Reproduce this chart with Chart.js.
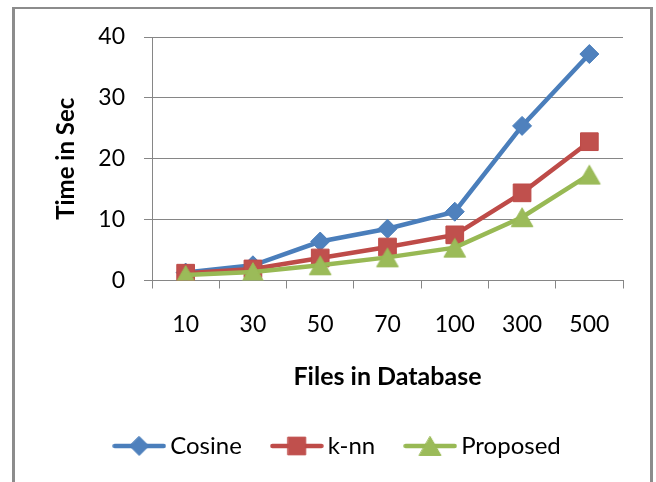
<!DOCTYPE html>
<html>
<head>
<meta charset="utf-8">
<script src="https://cdn.jsdelivr.net/npm/chart.js@4/dist/chart.umd.min.js"></script>
<style>
  html, body { margin: 0; padding: 0; background: #fff; }
  #wrap { position: relative; width: 656px; height: 482px; overflow: hidden; }
  #frame {
    position: absolute; left: 12px; top: 7px; width: 641px; height: 520px;
    box-sizing: border-box; border: 3px solid #8c8c8c; border-top-width: 2px;
  }
  #c { position: absolute; left: 0; top: 0; }
</style>
</head>
<body>
<div id="wrap">
  <div id="frame"></div>
  <canvas id="c" width="656" height="482"></canvas>
</div>
<script>
// Search time per database size
const categories = ['10', '30', '50', '70', '100', '300', '500'];
const cosine   = [1.3, 2.5, 6.4, 8.5, 11.3, 25.4, 37.2];
const knn      = [1.2, 1.9, 3.7, 5.5, 7.5, 14.4, 22.8];
const proposed = [0.9, 1.4, 2.5, 3.8, 5.4, 10.4, 17.4];
const yTicks   = [0, 10, 20, 30, 40];

const seriesNames = ['Cosine', 'k-nn', 'Proposed'];
const lineColors  = ['#4A7EBB', '#BE4B48', '#98B954'];
const fillColors  = ['#4F81BD', '#C0504D', '#9BBB59'];
const markerStyle = ['rectRot', 'rect', 'triangle'];
const markerSize  = [9.5, 12.5, 12.5];

const FONT = 'Lato, "Open Sans", sans-serif';
const AXIS = '#868686';

// Marker shape; the triangle is centred on its bounding box
function marker(g, style, r, x, y) {
  g.beginPath();
  if (style === 'rectRot') {
    g.moveTo(x, y - r); g.lineTo(x + r, y); g.lineTo(x, y + r); g.lineTo(x - r, y);
  } else if (style === 'rect') {
    const s = r * Math.SQRT1_2;
    g.rect(x - s, y - s, 2 * s, 2 * s);
  } else {
    const h = 1.5 * r, hw = r * Math.sqrt(3) / 2;
    g.moveTo(x, y - h / 2);
    g.lineTo(x + hw, y + h / 2);
    g.lineTo(x - hw, y + h / 2);
  }
  g.closePath();
  g.fill();
  g.stroke();
}

// Triangle marker image for the chart points
function triangleImage(i) {
  const c = document.createElement('canvas');
  c.width = 26; c.height = 22;
  const g = c.getContext('2d');
  g.fillStyle = fillColors[i];
  g.strokeStyle = lineColors[i];
  g.lineWidth = 1;
  marker(g, 'triangle', markerSize[i], 13, 11);
  return c;
}

// Line-with-marker swatch for the legend
function legendIcon(i) {
  const c = document.createElement('canvas');
  c.width = 54; c.height = 28;
  const g = c.getContext('2d');
  g.strokeStyle = lineColors[i];
  g.lineWidth = 4.5;
  g.lineCap = 'round';
  g.beginPath(); g.moveTo(2.5, 14); g.lineTo(51.5, 14); g.stroke();
  g.fillStyle = fillColors[i];
  g.lineWidth = 1;
  marker(g, markerStyle[i], markerSize[i], 27, 14);
  return c;
}

function makeDataset(i, values) {
  const style = markerStyle[i] === 'triangle' ? triangleImage(i) : markerStyle[i];
  return {
    label: seriesNames[i],
    data: values,
    borderColor: lineColors[i],
    backgroundColor: fillColors[i],
    borderWidth: 4.5,
    tension: 0,
    pointStyle: style,
    pointRadius: markerSize[i],
    pointHoverRadius: markerSize[i],
    pointBackgroundColor: fillColors[i],
    pointBorderColor: lineColors[i],
    pointBorderWidth: 1,
    order: 2 - i
  };
}

// Moves the legend row sideways after layout
const legendShift = {
  id: 'legendShift',
  afterLayout(chart, args, opts) {
    if (chart.legend) {
      chart.legend.left += opts.dx;
      chart.legend.right += opts.dx;
    }
  }
};

function draw() {
  Chart.defaults.color = '#000';
  Chart.defaults.font.family = FONT;
  const icons = [0, 1, 2].map(legendIcon);

  new Chart(document.getElementById('c'), {
    type: 'line',
    data: {
      labels: categories,
      datasets: [makeDataset(0, cosine), makeDataset(1, knn), makeDataset(2, proposed)]
    },
    plugins: [legendShift],
    options: {
      responsive: false,
      devicePixelRatio: 1,
      animation: false,
      events: [],
      layout: { padding: { left: 14, right: 33, top: 37, bottom: 14 } },
      scales: {
        x: {
          type: 'category',
          offset: true,
          afterFit(s) { s.height = 117.5; },
          grid: { offset: true, drawOnChartArea: false, drawTicks: true, tickLength: 8, color: AXIS, lineWidth: 1 },
          border: { color: AXIS, width: 1 },
          ticks: { padding: 22.7, font: { size: 23, family: FONT }, color: '#000', maxRotation: 0, autoSkip: false },
          title: { display: true, text: 'Files in Database', font: { size: 25, weight: 'bold', family: FONT }, color: '#000', padding: { top: 0, bottom: 6 } }
        },
        y: {
          min: yTicks[0],
          max: yTicks[yTicks.length - 1],
          afterFit(s) { s.width = 138; },
          afterBuildTicks(s) { s.ticks = yTicks.map(v => ({ value: v })); },
          grid: { color: AXIS, lineWidth: 1, tickLength: 8, drawTicks: true },
          border: { color: AXIS, width: 1 },
          ticks: { padding: 19, font: { size: 23, family: FONT }, color: '#000' },
          title: { display: true, text: 'Time in Sec', font: { size: 24, weight: 'bold', family: FONT }, color: '#000', padding: { top: 37.6, bottom: 0 } }
        }
      },
      plugins: {
        legendShift: { dx: 22 },
        tooltip: { enabled: false },
        legend: {
          position: 'bottom',
          labels: {
            usePointStyle: true,
            pointStyleWidth: 38,
            padding: 36,
            font: { size: 24, family: FONT },
            color: '#000',
            sort: (a, b) => a.datasetIndex - b.datasetIndex,
            generateLabels(chart) {
              const items = Chart.defaults.plugins.legend.labels.generateLabels(chart);
              items.forEach(it => { it.pointStyle = icons[it.datasetIndex]; });
              return items;
            }
          }
        }
      }
    }
  });
}

if (document.fonts && document.fonts.load) {
  Promise.all([document.fonts.load('23px Lato'), document.fonts.load('bold 24px Lato')])
    .then(draw, draw);
} else {
  draw();
}
</script>
</body>
</html>
